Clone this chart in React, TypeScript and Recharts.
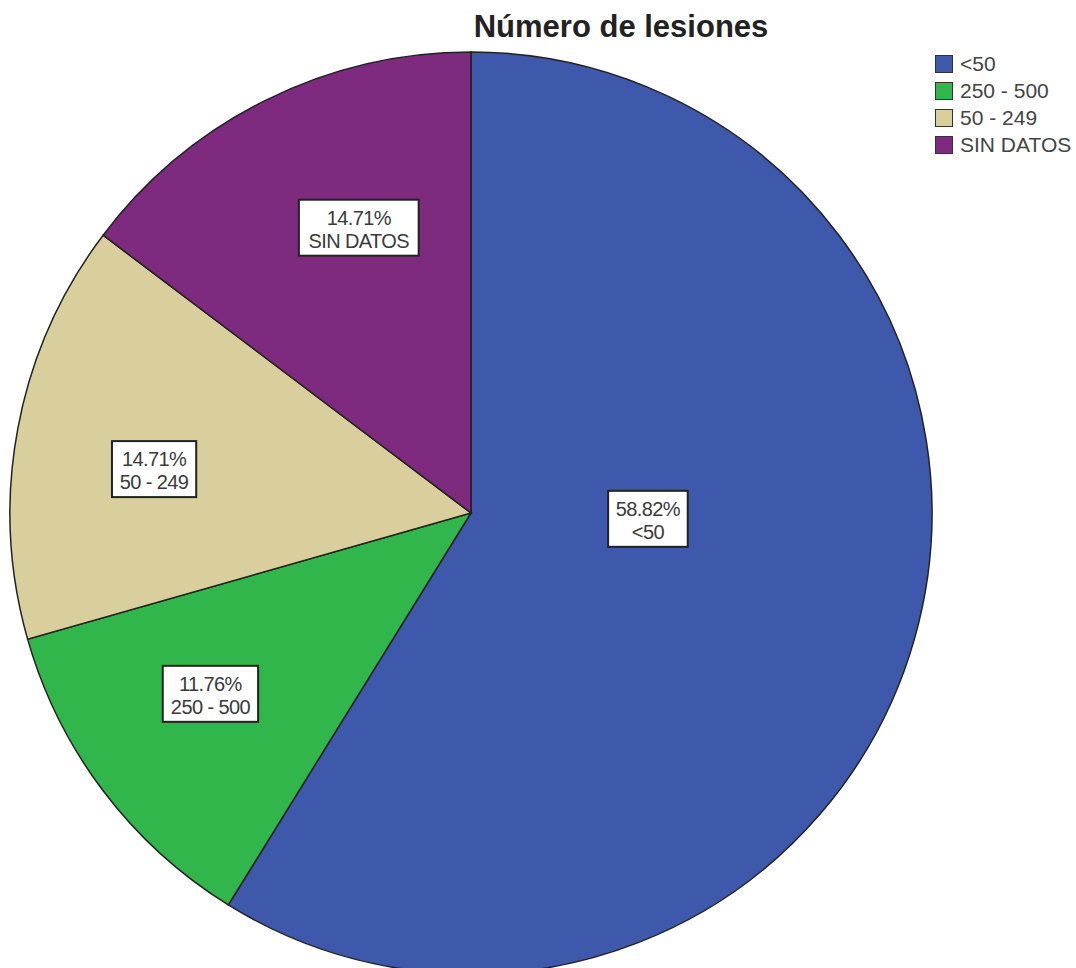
import React from 'react';
import { PieChart, Pie, Cell, Legend } from 'recharts';

const categories = ['<50', '250 - 500', '50 - 249', 'SIN DATOS'];
const counts = [20, 4, 5, 5];
const percentLabels = ['58.82%', '11.76%', '14.71%', '14.71%'];
const colors = ['#3e58ab', '#31b64b', '#d8cf9c', '#7d2a7f'];

const data = categories.map((name, i) => ({ name, value: counts[i], pct: percentLabels[i] }));

const RADIAN = Math.PI / 180;
const FONT = "'Liberation Sans', Arial, sans-serif";

// label placement relative to the slice mid angle (SPSS puts them a bit off-centre)
const labelRadius = [0.384, 0.688, 0.694, 0.665];
const labelTurn = [14, -2.3, 2.7, -5];

// rough Arial advance widths, used to size the white label boxes
const charW = (c: string) => {
  if (/[0-9]/.test(c)) return 0.556;
  if (c === '.' || c === ' ') return 0.278;
  if (c === '%') return 0.889;
  if (c === '-') return 0.333;
  if (c === '<') return 0.584;
  if (c === 'I') return 0.278;
  if (c === 'O') return 0.778;
  if (c === 'N' || c === 'D') return 0.722;
  if (c === 'T') return 0.611;
  return 0.667;
};
const textWidth = (s: string, size: number, spacing: number) =>
  s.split('').reduce((a, c) => a + charW(c) * size + spacing, 0);

const SliceLabel = (props: any) => {
  const { cx, cy, midAngle, outerRadius, index } = props;
  const r = outerRadius * labelRadius[index];
  const ang = midAngle + labelTurn[index];
  const x = cx + r * Math.cos(-ang * RADIAN);
  const y = cy + r * Math.sin(-ang * RADIAN);
  const d = data[index];
  const w = Math.max(textWidth(d.pct, 21, -0.6), textWidth(d.name, 21, -0.6)) + 12;
  const h = 56;
  return (
    <g>
      <rect x={x - w / 2} y={y - h / 2} width={w} height={h} fill="#fff" stroke="#222" strokeWidth={2} />
      <text x={x} y={y - 3} textAnchor="middle" fontSize={20} letterSpacing={-0.6} fill="#3a3a3a" fontFamily={FONT}>
        {d.pct}
      </text>
      <text x={x} y={y + 20} textAnchor="middle" fontSize={20} letterSpacing={-0.6} fill="#3a3a3a" fontFamily={FONT}>
        {d.name}
      </text>
    </g>
  );
};

const LegendBox = () => (
  <div style={{ fontFamily: FONT, fontSize: 21, color: '#444' }}>
    {categories.map((c, i) => (
      <div key={c} style={{ display: 'flex', alignItems: 'center', height: 27 }}>
        <span
          style={{
            display: 'inline-block',
            width: 16,
            height: 16,
            background: colors[i],
            border: '1px solid #333',
            marginRight: 7,
          }}
        />
        <span>{c}</span>
      </div>
    ))}
  </div>
);

export default function App() {
  return (
    <div style={{ position: 'absolute', left: 0, top: 0, width: 1076, height: 968, background: '#fff', overflow: 'hidden' }}>
      <div
        style={{
          position: 'absolute',
          left: 421,
          width: 400,
          top: 9,
          textAlign: 'center',
          fontFamily: FONT,
          fontWeight: 'bold',
          fontSize: 31,
          color: '#222',
        }}
      >
        Número de lesiones
      </div>
      <PieChart width={1076} height={968} margin={{ top: 0, right: 0, bottom: 0, left: 0 }}>
        <Pie
          data={data}
          dataKey="value"
          nameKey="name"
          cx={471}
          cy={513}
          outerRadius={461}
          startAngle={90}
          endAngle={-270}
          stroke="#222"
          strokeWidth={1.5}
          label={SliceLabel}
          labelLine={false}
          isAnimationActive={false}
        >
          {data.map((d, i) => (
            <Cell key={d.name} fill={colors[i]} />
          ))}
        </Pie>
        <Legend
          layout="vertical"
          verticalAlign="top"
          align="right"
          content={LegendBox}
          wrapperStyle={{ top: 50, left: 935, width: 141 }}
        />
      </PieChart>
    </div>
  );
}
